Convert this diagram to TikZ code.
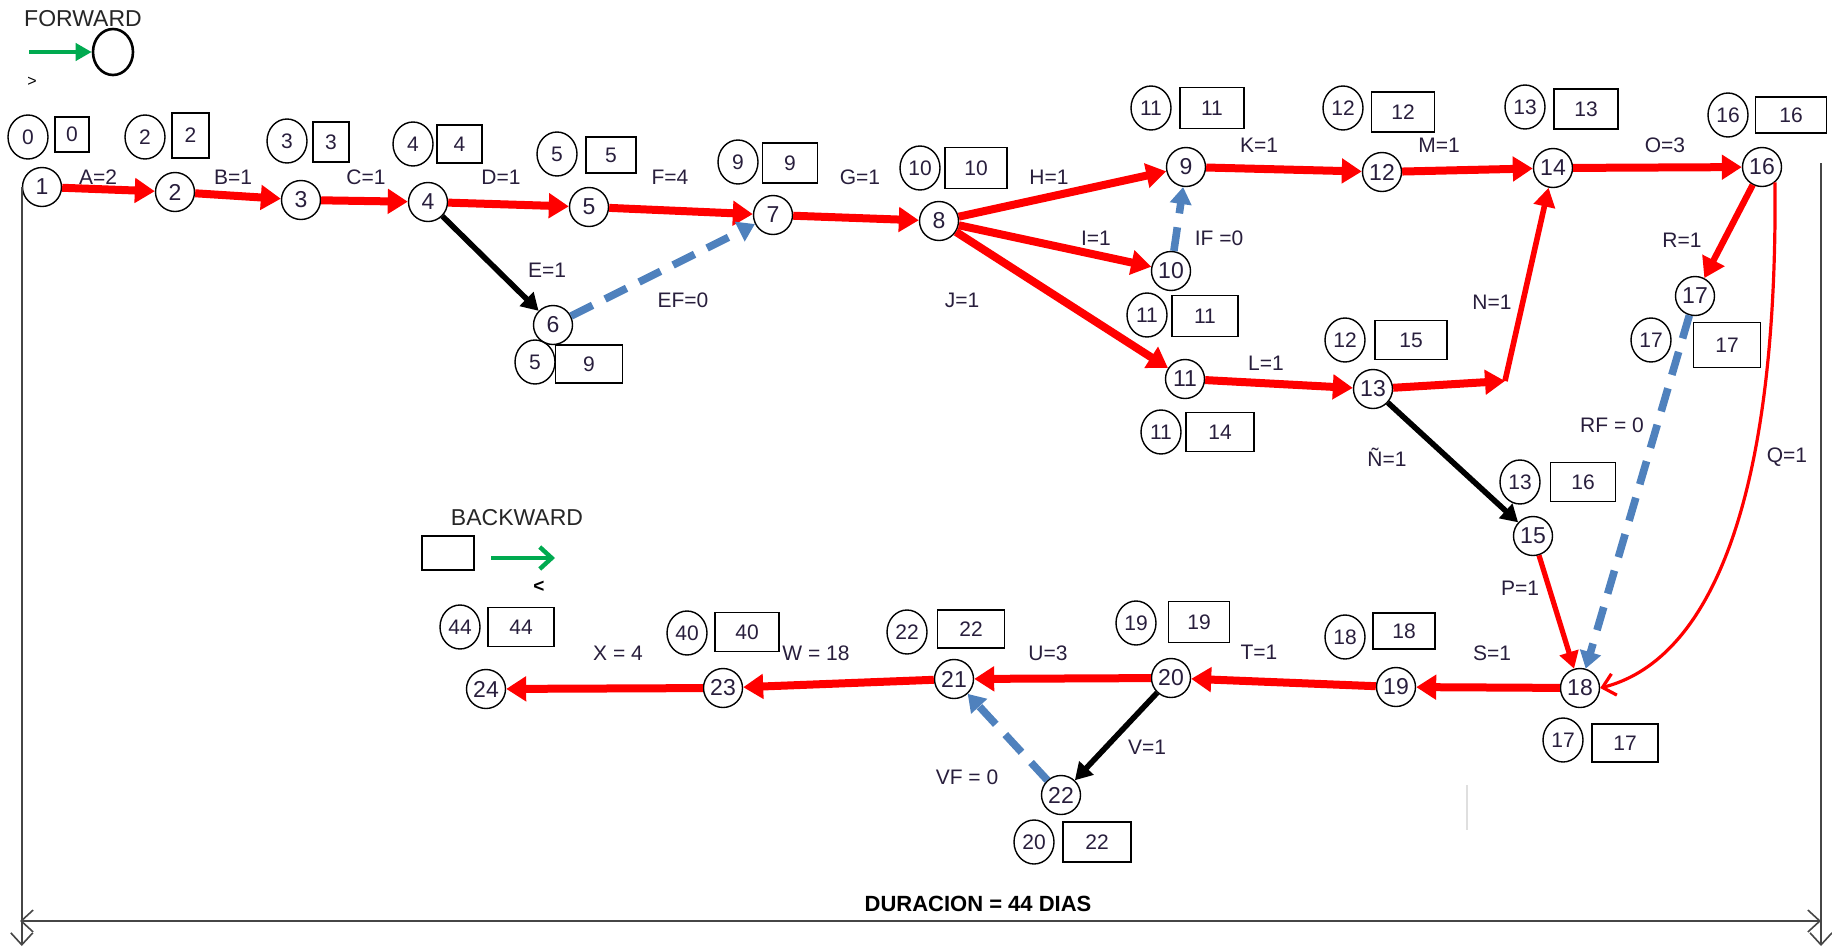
\documentclass[tikz,border=0pt]{standalone}
\usepackage{fontspec}
\setmainfont{Liberation Sans}
\usetikzlibrary{arrows.meta,shapes.geometric}
\definecolor{txt}{RGB}{40,30,60}
\definecolor{crit}{RGB}{255,0,0}
\definecolor{dumb}{RGB}{79,129,189}
\definecolor{grn}{RGB}{0,170,80}
\definecolor{frm}{RGB}{70,70,70}
\newcommand\lo[1]{\raisebox{-2.5pt}{#1}}
\begin{document}
\begin{tikzpicture}[x=0.5pt,y=-0.5pt,
 nd/.style={circle,draw,line width=0.7pt,minimum size=19.5pt,inner sep=0pt,text=txt,font=\fontsize{11.5}{12}\selectfont},
 es/.style={ellipse,draw,line width=0.7pt,minimum width=20pt,minimum height=22pt,inner sep=0pt,text=txt,font=\fontsize{10.5}{12}\selectfont},
 bx/.style={rectangle,draw,line width=0.7pt,inner sep=0pt,text=txt,font=\fontsize{10.5}{12}\selectfont},
 lab/.style={text=txt,font=\fontsize{10.5}{12}\selectfont,inner sep=1pt},
 act/.style={crit,line width=4pt,-{Triangle[length=10pt,width=12pt]}},
 actm/.style={crit,line width=2.6pt,-{Triangle[length=8.5pt,width=9.5pt]}},
 blk/.style={black,line width=2.8pt,-{Triangle[length=8.5pt,width=9.5pt]}},
 dum/.style={dumb,line width=3.8pt,dash pattern=on 12pt off 7pt,-{Triangle[length=8.5pt,width=10.5pt]}},
 qarr/.style={crit,line width=1.6pt,-{Straight Barb[length=6pt,width=11pt,line width=1.6pt]}},
 frame/.style={frm,line width=0.8pt},
 barb/.tip={Straight Barb[length=6pt,width=11pt,line width=0.8pt]}
]
\useasboundingbox (0,0) rectangle (1832,948);

% ---------- legend ----------
\node[font=\fontsize{11.5}{13}\selectfont,text=black!85] (fw) at (83,19) {FORWARD};
\node[ellipse,draw,line width=1.3pt,minimum width=20pt,minimum height=23pt,inner sep=0pt] (fc) at (113,52) {};
\coordinate (ga) at (29,52);
\draw[grn,line width=2.2pt,-{Triangle[length=8pt,width=8.5pt]}] (ga) -- (fc.west);
\node[font=\fontsize{8}{9}\selectfont] (gt) at (32,82) {>};

\node[font=\fontsize{11.5}{13}\selectfont,text=black!85] (bw) at (517,518) {BACKWARD};
\node[rectangle,draw,line width=1.3pt,minimum width=26pt,minimum height=17pt,inner sep=0pt] (bb) at (448,553) {};
\coordinate (gb1) at (491,558);
\coordinate (gb2) at (555,558);
\draw[grn,line width=2.2pt,-{Straight Barb[length=6pt,width=11pt,line width=2.2pt]}] (gb1) -- (gb2);
\node[font=\bfseries\fontsize{9.5}{10}\selectfont] (lt) at (539,587) {<};

% ---------- event nodes ----------
\node[nd] (n1) at (42,187) {1};
\node[nd] (n2) at (175,192) {2};
\node[nd] (n3) at (301,200) {3};
\node[nd] (n4) at (428,202) {4};
\node[nd] (n5) at (589,207) {5};
\node[nd] (n6) at (553,325) {6};
\node[nd] (n7) at (773,215) {7};
\node[nd] (n8) at (939,221) {8};
\node[nd] (n9) at (1186,167) {9};
\node[nd] (n10) at (1171,271) {10};
\node[nd] (n11) at (1185,379) {11};
\node[nd] (n12) at (1382,172) {12};
\node[nd] (n13) at (1373,389) {13};
\node[nd] (n14) at (1553,168) {14};
\node[nd] (n15) at (1533,536) {15};
\node[nd] (n16) at (1762,167) {16};
\node[nd] (n17) at (1695,296) {17};
\node[nd] (n18) at (1580,688) {18};
\node[nd] (n19) at (1396,687) {19};
\node[nd] (n20) at (1171,678) {20};
\node[nd] (n21) at (954,679) {21};
\node[nd] (n22) at (1061,795) {22};
\node[nd] (n23) at (723,688) {23};
\node[nd] (n24) at (486,689) {24};

% ---------- early times (circles) ----------
\node[es] (e1) at (28,137) {0};
\node[es] (e2) at (145,137) {2};
\node[es] (e3) at (287,141) {3};
\node[es] (e4) at (413,144) {4};
\node[es] (e5) at (557,154) {5};
\node[es] (e6) at (535,362) {5};
\node[es] (e7) at (738,162) {9};
\node[es] (e8) at (920,168) {10};
\node[es] (e9) at (1151,108) {11};
\node[es] (e10) at (1147,315) {11};
\node[es] (e11) at (1161,432) {11};
\node[es] (e12) at (1343,108) {12};
\node[es] (e13) at (1345,340) {12};
\node[es] (e14) at (1525,107) {13};
\node[es] (e15) at (1520,482) {13};
\node[es] (e16) at (1728,115) {16};
\node[es] (e17) at (1651,340) {17};
\node[es] (e18) at (1563,740) {17};
\node[es] (e19) at (1345,637) {18};
\node[es] (e20) at (1136,623) {19};
\node[es] (e21) at (907,632) {22};
\node[es] (e22) at (1034,842) {20};
\node[es] (e23) at (687,633) {40};
\node[es] (e24) at (460,627) {44};

% ---------- late times (boxes) ----------
\node[bx,minimum width=17pt,minimum height=17.5pt] (b1) at (72,134.5) {0};
\node[bx,minimum width=18.5pt,minimum height=22.5pt] (b2) at (190.5,135.5) {\lo{2}};
\node[bx,minimum width=18pt,minimum height=20pt] (b3) at (331,142) {\lo{3}};
\node[bx,minimum width=22.5pt,minimum height=19pt] (b4) at (459.5,144) {\lo{4}};
\node[bx,minimum width=25pt,minimum height=18pt] (b5) at (611,155) {\lo{5}};
\node[bx,minimum width=33.5pt,minimum height=19pt] (b6) at (589,364) {\lo{9}};
\node[bx,minimum width=27.5pt,minimum height=20pt] (b7) at (790,163) {\lo{9}};
\node[bx,minimum width=31pt,minimum height=20.5pt] (b8) at (976,168) {\lo{10}};
\node[bx,minimum width=32pt,minimum height=20.5pt] (b9) at (1212,108) {\lo{11}};
\node[bx,minimum width=33pt,minimum height=20.5pt] (b10) at (1205,316) {\lo{11}};
\node[bx,minimum width=34pt,minimum height=19.5pt] (b11) at (1220,432) {\lo{14}};
\node[bx,minimum width=31.5pt,minimum height=20pt] (b12) at (1403,112) {\lo{12}};
\node[bx,minimum width=36pt,minimum height=19.5pt] (b13) at (1411,340) {\lo{15}};
\node[bx,minimum width=32pt,minimum height=20pt] (b14) at (1586,109) {\lo{13}};
\node[bx,minimum width=32.5pt,minimum height=19.5pt] (b15) at (1583,482) {\lo{16}};
\node[bx,minimum width=35.5pt,minimum height=18pt] (b16) at (1791,115) {\lo{16}};
\node[bx,minimum width=33.5pt,minimum height=22.5pt] (b17) at (1727,345) {\lo{17}};
\node[bx,minimum width=33pt,minimum height=19pt] (b18) at (1625,743) {\lo{17}};
\node[bx,minimum width=31pt,minimum height=18pt] (b19) at (1404,631) {\lo{18}};
\node[bx,minimum width=30.5pt,minimum height=20.5pt] (b20) at (1199,622) {\lo{19}};
\node[bx,minimum width=33.5pt,minimum height=19pt] (b21) at (971,629) {\lo{22}};
\node[bx,minimum width=34pt,minimum height=20pt] (b22) at (1097,842) {\lo{22}};
\node[bx,minimum width=32pt,minimum height=19.5pt] (b23) at (747,632) {\lo{40}};
\node[bx,minimum width=33pt,minimum height=19.5pt] (b24) at (521,627) {\lo{44}};

% ---------- activities ----------
\draw[act] (n1) -- (n2);
\draw[act] (n2) -- (n3);
\draw[act] (n3) -- (n4);
\draw[act] (n4) -- (n5);
\draw[act] (n5) -- (n7);
\draw[act] (n7) -- (n8);
\draw[act] (n8) -- (n9);
\draw[act] (n8) -- (n10);
\draw[act] (n8) -- (n11);
\draw[act] (n9) -- (n12);
\draw[act] (n12) -- (n14);
\draw[act] (n14) -- (n16);
\draw[act] (n11) -- (n13);
\coordinate (nb) at (1505,381);
\draw[act] (n13) -- (nb);
\draw[crit,line width=2.8pt,-{Triangle[length=9.5pt,width=10.5pt]}] (nb) -- (n14);
\draw[act,line width=3.2pt] (n16) -- (n17);
\draw[qarr] (n16.-50) .. controls (1778,520) and (1702,662) .. (n18.east);
\draw[actm] (n15) -- (n18);
\draw[act] (n18) -- (n19);
\draw[act] (n19) -- (n20);
\draw[act] (n20) -- (n21);
\draw[act] (n21) -- (n23);
\draw[act] (n23) -- (n24);
\draw[blk] (n4) -- (n6);
\draw[blk] (n13) -- (n15);
\draw[blk] (n20) -- (n22);
\draw[dum] (n6) -- (n7);
\draw[dum] (n10) -- (n9);
\draw[dum] (n17) -- (n18);
\draw[dum] (n22) -- (n21);

% ---------- activity labels ----------
\node[lab] (lA) at (98,177) {A=2};
\node[lab] (lB) at (233,177) {B=1};
\node[lab] (lC) at (366,177) {C=1};
\node[lab] (lD) at (501,177) {D=1};
\node[lab] (lE) at (547,270) {E=1};
\node[lab] (lEF) at (683,300) {EF=0};
\node[lab] (lF) at (670,177) {F=4};
\node[lab] (lG) at (860,177) {G=1};
\node[lab] (lH) at (1049,177) {H=1};
\node[lab] (lI) at (1096,238) {I=1};
\node[lab] (lJ) at (962,300) {J=1};
\node[lab] (lIF) at (1219,238) {IF =0};
\node[lab] (lK) at (1259,145) {K=1};
\node[lab] (lM) at (1439,145) {M=1};
\node[lab] (lO) at (1665,145) {O=3};
\node[lab] (lL) at (1266,363) {L=1};
\node[lab] (lN) at (1492,302) {N=1};
\node[lab] (lR) at (1682,240) {R=1};
\node[lab] (lRF) at (1612,425) {RF = 0};
\node[lab] (lNn) at (1387,457) {Ñ=1};
\node[lab] (lQ) at (1787,457) {Q=1};
\node[lab] (lP) at (1520,588) {P=1};
\node[lab] (lS) at (1492,653) {S=1};
\node[lab] (lT) at (1259,652) {T=1};
\node[lab] (lU) at (1048,653) {U=3};
\node[lab] (lV) at (1147,747) {V=1};
\node[lab] (lVF) at (967,777) {VF = 0};
\node[lab] (lW) at (816,653) {W = 18};
\node[lab] (lX) at (618,653) {X = 4};

% ---------- frame and duration ----------
\coordinate (fl) at (20,946);
\coordinate (frt) at (1821,163);
\coordinate (frb) at (1821,946);
\coordinate (hl) at (20,921);
\coordinate (hr) at (1821,921);
\draw[frame,-barb] (n1.west) -- (n1.west |- fl);
\draw[frame,-barb] (frt) -- (frb);
\draw[frame,barb-barb] (hl) -- (hr);
\node[font=\bfseries\fontsize{11}{12}\selectfont] (dur) at (978,904) {DURACION = 44 DIAS};
\draw[gray!25,line width=0.6pt] (1467,785) -- (1467,830);
\end{tikzpicture}
\end{document}
